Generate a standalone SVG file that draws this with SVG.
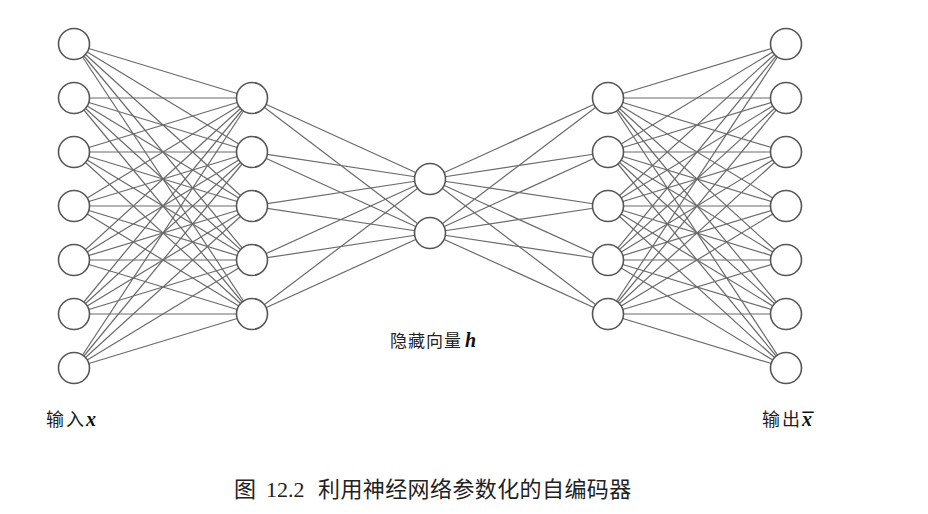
<svg xmlns="http://www.w3.org/2000/svg" width="928" height="514" viewBox="0 0 928 514">
<style>
.e{stroke:#6a6a6a;stroke-width:1.2;fill:none}
.n{fill:#fff;stroke:#555;stroke-width:1.6}
.cj{font-family:"Noto Sans CJK SC",sans-serif;fill:#222}
.m{font-family:"Liberation Serif",serif;font-style:italic;font-weight:bold;fill:#111}
</style>
<rect width="928" height="514" fill="#fff"/>
<g id="connectors">
<g id="l1-l2">
<line class="e" x1="74" y1="44" x2="252" y2="98"/><line class="e" x1="74" y1="44" x2="252" y2="152"/><line class="e" x1="74" y1="44" x2="252" y2="206"/><line class="e" x1="74" y1="44" x2="252" y2="260"/><line class="e" x1="74" y1="44" x2="252" y2="314"/>
<line class="e" x1="74" y1="98" x2="252" y2="98"/><line class="e" x1="74" y1="98" x2="252" y2="152"/><line class="e" x1="74" y1="98" x2="252" y2="206"/><line class="e" x1="74" y1="98" x2="252" y2="260"/><line class="e" x1="74" y1="98" x2="252" y2="314"/>
<line class="e" x1="74" y1="152" x2="252" y2="98"/><line class="e" x1="74" y1="152" x2="252" y2="152"/><line class="e" x1="74" y1="152" x2="252" y2="206"/><line class="e" x1="74" y1="152" x2="252" y2="260"/><line class="e" x1="74" y1="152" x2="252" y2="314"/>
<line class="e" x1="74" y1="206" x2="252" y2="98"/><line class="e" x1="74" y1="206" x2="252" y2="152"/><line class="e" x1="74" y1="206" x2="252" y2="206"/><line class="e" x1="74" y1="206" x2="252" y2="260"/><line class="e" x1="74" y1="206" x2="252" y2="314"/>
<line class="e" x1="74" y1="260" x2="252" y2="98"/><line class="e" x1="74" y1="260" x2="252" y2="152"/><line class="e" x1="74" y1="260" x2="252" y2="206"/><line class="e" x1="74" y1="260" x2="252" y2="260"/><line class="e" x1="74" y1="260" x2="252" y2="314"/>
<line class="e" x1="74" y1="314" x2="252" y2="98"/><line class="e" x1="74" y1="314" x2="252" y2="152"/><line class="e" x1="74" y1="314" x2="252" y2="206"/><line class="e" x1="74" y1="314" x2="252" y2="260"/><line class="e" x1="74" y1="314" x2="252" y2="314"/>
<line class="e" x1="74" y1="368" x2="252" y2="98"/><line class="e" x1="74" y1="368" x2="252" y2="152"/><line class="e" x1="74" y1="368" x2="252" y2="206"/><line class="e" x1="74" y1="368" x2="252" y2="260"/><line class="e" x1="74" y1="368" x2="252" y2="314"/>
</g>
<g id="l2-l3">
<line class="e" x1="252" y1="98" x2="430" y2="179"/><line class="e" x1="252" y1="98" x2="430" y2="233"/>
<line class="e" x1="252" y1="152" x2="430" y2="179"/><line class="e" x1="252" y1="152" x2="430" y2="233"/>
<line class="e" x1="252" y1="206" x2="430" y2="179"/><line class="e" x1="252" y1="206" x2="430" y2="233"/>
<line class="e" x1="252" y1="260" x2="430" y2="179"/><line class="e" x1="252" y1="260" x2="430" y2="233"/>
<line class="e" x1="252" y1="314" x2="430" y2="179"/><line class="e" x1="252" y1="314" x2="430" y2="233"/>
</g>
<g id="l3-l4">
<line class="e" x1="430" y1="179" x2="608" y2="98"/><line class="e" x1="430" y1="179" x2="608" y2="152"/><line class="e" x1="430" y1="179" x2="608" y2="206"/><line class="e" x1="430" y1="179" x2="608" y2="260"/><line class="e" x1="430" y1="179" x2="608" y2="314"/>
<line class="e" x1="430" y1="233" x2="608" y2="98"/><line class="e" x1="430" y1="233" x2="608" y2="152"/><line class="e" x1="430" y1="233" x2="608" y2="206"/><line class="e" x1="430" y1="233" x2="608" y2="260"/><line class="e" x1="430" y1="233" x2="608" y2="314"/>
</g>
<g id="l4-l5">
<line class="e" x1="608" y1="98" x2="786" y2="44"/><line class="e" x1="608" y1="98" x2="786" y2="98"/><line class="e" x1="608" y1="98" x2="786" y2="152"/><line class="e" x1="608" y1="98" x2="786" y2="206"/><line class="e" x1="608" y1="98" x2="786" y2="260"/><line class="e" x1="608" y1="98" x2="786" y2="314"/><line class="e" x1="608" y1="98" x2="786" y2="368"/>
<line class="e" x1="608" y1="152" x2="786" y2="44"/><line class="e" x1="608" y1="152" x2="786" y2="98"/><line class="e" x1="608" y1="152" x2="786" y2="152"/><line class="e" x1="608" y1="152" x2="786" y2="206"/><line class="e" x1="608" y1="152" x2="786" y2="260"/><line class="e" x1="608" y1="152" x2="786" y2="314"/><line class="e" x1="608" y1="152" x2="786" y2="368"/>
<line class="e" x1="608" y1="206" x2="786" y2="44"/><line class="e" x1="608" y1="206" x2="786" y2="98"/><line class="e" x1="608" y1="206" x2="786" y2="152"/><line class="e" x1="608" y1="206" x2="786" y2="206"/><line class="e" x1="608" y1="206" x2="786" y2="260"/><line class="e" x1="608" y1="206" x2="786" y2="314"/><line class="e" x1="608" y1="206" x2="786" y2="368"/>
<line class="e" x1="608" y1="260" x2="786" y2="44"/><line class="e" x1="608" y1="260" x2="786" y2="98"/><line class="e" x1="608" y1="260" x2="786" y2="152"/><line class="e" x1="608" y1="260" x2="786" y2="206"/><line class="e" x1="608" y1="260" x2="786" y2="260"/><line class="e" x1="608" y1="260" x2="786" y2="314"/><line class="e" x1="608" y1="260" x2="786" y2="368"/>
<line class="e" x1="608" y1="314" x2="786" y2="44"/><line class="e" x1="608" y1="314" x2="786" y2="98"/><line class="e" x1="608" y1="314" x2="786" y2="152"/><line class="e" x1="608" y1="314" x2="786" y2="206"/><line class="e" x1="608" y1="314" x2="786" y2="260"/><line class="e" x1="608" y1="314" x2="786" y2="314"/><line class="e" x1="608" y1="314" x2="786" y2="368"/>
</g>
</g>
<g id="input-layer">
<g id="x1"><circle class="n" cx="74" cy="44" r="15.5"/></g>
<g id="x2"><circle class="n" cx="74" cy="98" r="15.5"/></g>
<g id="x3"><circle class="n" cx="74" cy="152" r="15.5"/></g>
<g id="x4"><circle class="n" cx="74" cy="206" r="15.5"/></g>
<g id="x5"><circle class="n" cx="74" cy="260" r="15.5"/></g>
<g id="x6"><circle class="n" cx="74" cy="314" r="15.5"/></g>
<g id="x7"><circle class="n" cx="74" cy="368" r="15.5"/></g>
</g>
<g id="encoder-layer">
<g id="e1"><circle class="n" cx="252" cy="98" r="15.5"/></g>
<g id="e2"><circle class="n" cx="252" cy="152" r="15.5"/></g>
<g id="e3"><circle class="n" cx="252" cy="206" r="15.5"/></g>
<g id="e4"><circle class="n" cx="252" cy="260" r="15.5"/></g>
<g id="e5"><circle class="n" cx="252" cy="314" r="15.5"/></g>
</g>
<g id="hidden-layer">
<g id="h1"><circle class="n" cx="430" cy="179" r="15.5"/></g>
<g id="h2"><circle class="n" cx="430" cy="233" r="15.5"/></g>
</g>
<g id="decoder-layer">
<g id="d1"><circle class="n" cx="608" cy="98" r="15.5"/></g>
<g id="d2"><circle class="n" cx="608" cy="152" r="15.5"/></g>
<g id="d3"><circle class="n" cx="608" cy="206" r="15.5"/></g>
<g id="d4"><circle class="n" cx="608" cy="260" r="15.5"/></g>
<g id="d5"><circle class="n" cx="608" cy="314" r="15.5"/></g>
</g>
<g id="output-layer">
<g id="y1"><circle class="n" cx="786" cy="44" r="15.5"/></g>
<g id="y2"><circle class="n" cx="786" cy="98" r="15.5"/></g>
<g id="y3"><circle class="n" cx="786" cy="152" r="15.5"/></g>
<g id="y4"><circle class="n" cx="786" cy="206" r="15.5"/></g>
<g id="y5"><circle class="n" cx="786" cy="260" r="15.5"/></g>
<g id="y6"><circle class="n" cx="786" cy="314" r="15.5"/></g>
<g id="y7"><circle class="n" cx="786" cy="368" r="15.5"/></g>
</g>
<g id="labels">
<text x="390" y="347" font-size="17" class="cj" letter-spacing="1">隐藏向量</text>
<text x="465" y="347" font-size="20" class="m">h</text>
<text x="46" y="426" font-size="18" class="cj" letter-spacing="2">输入</text>
<text x="86" y="426" font-size="20" class="m">x</text>
<text x="762" y="426" font-size="18" class="cj" letter-spacing="2">输出</text>
<text x="802" y="426" font-size="20" class="m">x<tspan dx="-9.5" font-style="normal" font-size="22" dy="1">¯</tspan></text>
<text x="234" y="497" font-size="22" class="cj">图</text>
<text x="266" y="497" font-size="22" font-family="Liberation Serif,serif" fill="#222">12.2</text>
<text x="318" y="497" font-size="22" class="cj" letter-spacing="0.4">利用神经网络参数化的自编码器</text>
</g>
</svg>
